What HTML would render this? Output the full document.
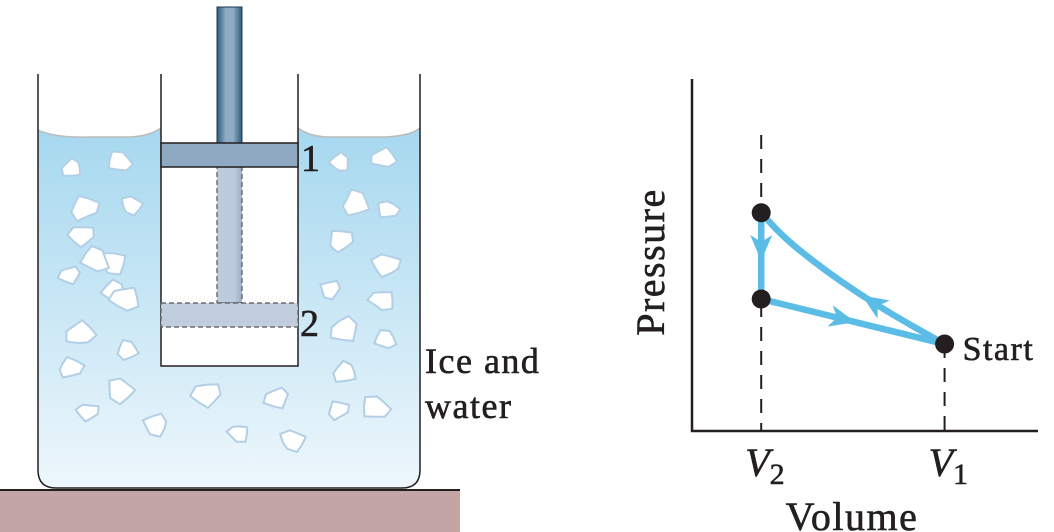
<!DOCTYPE html>
<html><head><meta charset="utf-8"><style>
html,body{margin:0;padding:0;background:#fff;width:1054px;height:532px;overflow:hidden}
svg text{font-family:"Liberation Serif",serif;fill:#231f20;stroke:#231f20;stroke-width:0.6}
</style></head><body>
<svg width="1054" height="532" viewBox="0 0 1054 532">
<defs>
<linearGradient id="water" x1="0" y1="0" x2="0" y2="1">
<stop offset="0" stop-color="#a6d8ef"/><stop offset="1" stop-color="#eef7fc"/></linearGradient>
<linearGradient id="rod" x1="0" y1="0" x2="1" y2="0">
<stop offset="0" stop-color="#2e5a78"/><stop offset="0.35" stop-color="#8fabc4"/><stop offset="0.65" stop-color="#8fabc4"/><stop offset="1" stop-color="#2e5a78"/></linearGradient>
<linearGradient id="rod2" x1="0" y1="0" x2="1" y2="0">
<stop offset="0" stop-color="#bccbdb"/><stop offset="0.7" stop-color="#bccbdb"/><stop offset="1" stop-color="#97aec5"/></linearGradient>
</defs>
<g>
<rect x="0" y="490" width="460" height="42" fill="#c4a5a6"/>
<line x1="0" y1="490" x2="460" y2="490" stroke="#231f20" stroke-width="2"/>
<path d="M38 130 Q55 138 90 137 L130 137 Q150 136 161 128 L161 366 L298 366 L298 128 Q310 137 330 137 L385 137 Q410 136 420 128 L420 470 Q420 488 402 488 L56 488 Q38 488 38 470 Z" fill="url(#water)" stroke="none"/>
<path d="M38 130 Q55 138 90 137 L130 137 Q150 136 161 128 M298 128 Q310 137 330 137 L385 137 Q410 136 420 128" fill="none" stroke="#bbb" stroke-width="1.5"/>
<path d="M38 74 L38 470 Q38 488 56 488 L402 488 Q420 488 420 470 L420 74" fill="none" stroke="#231f20" stroke-width="1.5"/>
<path d="M161 74 L161 366 L298 366 L298 74" fill="none" stroke="#231f20" stroke-width="1.5"/>
<rect x="217" y="167" width="25" height="136" fill="url(#rod2)" stroke="#555" stroke-width="1.2" stroke-dasharray="5,3"/>
<rect x="161" y="303" width="137" height="24" fill="#bfcddd" stroke="#555" stroke-width="1.2" stroke-dasharray="5,3"/>
<rect x="217" y="7" width="25" height="136" fill="url(#rod)" stroke="#1d3a50" stroke-width="1"/>
<rect x="161" y="143" width="137" height="24" fill="#8fa9c3" stroke="#231f20" stroke-width="1.5"/>
<text x="301" y="171" font-size="38">1</text>
<text x="300" y="336" font-size="38">2</text>
<text x="425" y="373" font-size="36" letter-spacing="1.5">Ice and</text>
<text x="425" y="418" font-size="36" letter-spacing="1.5">water</text>
<g id="ice" fill="#fff" stroke="#b3cfe6" stroke-width="2"></g>
</g>
<g id="chart"></g>
</svg>
<script>
const icePos=[[72,168],[120,162],[84,208],[132,205],[82,236],[112,262],[70,275],[114,292],[80,333],[128,350],[70,368],[120,390],[88,412],[155,425],[125,298],[340,163],[383,158],[356,203],[388,210],[340,240],[387,265],[330,290],[382,300],[345,330],[385,340],[345,372],[376,408],[338,410],[293,440],[207,395],[238,433],[277,398],[95,260]];
const ice=document.getElementById('ice');
icePos.forEach((p,i)=>{
 const r=12+(i%3)*2;
 const e=document.createElementNS('http://www.w3.org/2000/svg','path');
 let d='';
 for(let k=0;k<8;k++){const a=k/8*Math.PI*2+i;const rr=r*(0.65+((i*7+k*3)%5)/10);d+=(k?'L':'M')+(p[0]+rr*Math.cos(a)).toFixed(1)+' '+(p[1]+rr*0.85*Math.sin(a)).toFixed(1);}
 e.setAttribute('d',d+'Z');
 
 
 ice.appendChild(e);
});
</script>
<script>
// chart data
const volumes=[0.2,0.2,0.73];          // top state, middle state, start state (V2, V2, V1)
const pressures=[0.62,0.375,0.247];
const tickLabels=['V2','V1'];
const tickValues=[0.2,0.73];
const curveV=[0.2,0.26,0.34,0.43,0.53,0.63,0.73];   // compression path (top -> start)
const curveP=[0.62,0.555,0.49,0.425,0.36,0.302,0.247];
const X0=692,X1=1038,Y0=431,Y1=79;
const sx=v=>X0+v*(X1-X0), sy=p=>Y0-p*(Y0-Y1);
const NS='http://www.w3.org/2000/svg';
const g=document.getElementById('chart');
function mk(tag,attrs,txt){const e=document.createElementNS(NS,tag);for(const k in attrs)e.setAttribute(k,attrs[k]);if(txt!=null)e.textContent=txt;g.appendChild(e);return e;}
let a=mk('path',{d:`M${X0} ${Y1} L${X0} ${Y0} L${X1} ${Y0}`,fill:'none',stroke:'#231f20','stroke-width':2.5});


let d1=mk('line',{x1:sx(volumes[0]),y1:135,x2:sx(volumes[0]),y2:Y0,stroke:'#231f20','stroke-width':2,'stroke-dasharray':'14,10'});


let d2=mk('line',{x1:sx(volumes[2]),y1:sy(pressures[2]),x2:sx(volumes[2]),y2:Y0,stroke:'#231f20','stroke-width':2,'stroke-dasharray':'14,10'});


const blue='#5bbde6';
let cd='M'+sx(curveV[0])+' '+sy(curveP[0]);
for(let i=1;i<curveV.length;i++){
 const xm=(sx(curveV[i-1])+sx(curveV[i]))/2, ym=(sy(curveP[i-1])+sy(curveP[i]))/2;
 cd+=` Q${sx(curveV[i-1])} ${sy(curveP[i-1])} ${xm} ${ym}`;
}
cd+=' L'+sx(curveV[curveV.length-1])+' '+sy(curveP[curveP.length-1]);
let c=mk('path',{d:cd,fill:'none',stroke:blue,'stroke-width':6.5,'stroke-linejoin':'round'});


let l1=mk('line',{x1:sx(volumes[0]),y1:sy(pressures[0]),x2:sx(volumes[1]),y2:sy(pressures[1]),stroke:blue,'stroke-width':6.5});


let l2=mk('line',{x1:sx(volumes[1]),y1:sy(pressures[1]),x2:sx(volumes[2]),y2:sy(pressures[2]),stroke:blue,'stroke-width':6.5});


function arrow(xa,ya,xb,yb,t,name){
 const x=xa+(xb-xa)*t,y=ya+(yb-ya)*t,ang=Math.atan2(yb-ya,xb-xa)*180/Math.PI;
 const e=mk('path',{d:'M12 0 L-14 -11 L-7 0 L-14 11 Z',fill:blue,transform:`translate(${x},${y}) rotate(${ang})`});
 
 
}
arrow(sx(volumes[0]),sy(pressures[0]),sx(volumes[1]),sy(pressures[1]),0.42,'arrow-down');
arrow(sx(volumes[1]),sy(pressures[1]),sx(volumes[2]),sy(pressures[2]),0.45,'arrow-right');
arrow(sx(curveV[4]),sy(curveP[4]),sx(curveV[3]),sy(curveP[3]),0.1,'arrow-up-left');
volumes.forEach((v,i)=>{
 const e=mk('circle',{cx:sx(v),cy:sy(pressures[i]),r:9.5,fill:'#231f20'});
 
 
});
let st=mk('text',{x:sx(volumes[2])+18,y:sy(pressures[2])+16,'font-size':34,'letter-spacing':1.5},'Start');


tickValues.forEach((v,i)=>{
 const t=mk('text',{x:sx(v)-16,y:476,'font-size':40,'font-style':'italic'});
 
 
 t.textContent=tickLabels[i][0];
 const s=document.createElementNS(NS,'tspan');
 s.setAttribute('font-size','30');s.setAttribute('font-style','normal');s.setAttribute('dy','8');
 s.textContent=tickLabels[i].slice(1);
 t.appendChild(s);
});
let xt=mk('text',{x:852,y:530,'font-size':40,'text-anchor':'middle','letter-spacing':1.5},'Volume');


let yt=mk('text',{x:0,y:0,'font-size':40,'text-anchor':'middle','letter-spacing':1.5,transform:'translate(664,262) rotate(-90)'},'Pressure');


</script>
</body></html>
